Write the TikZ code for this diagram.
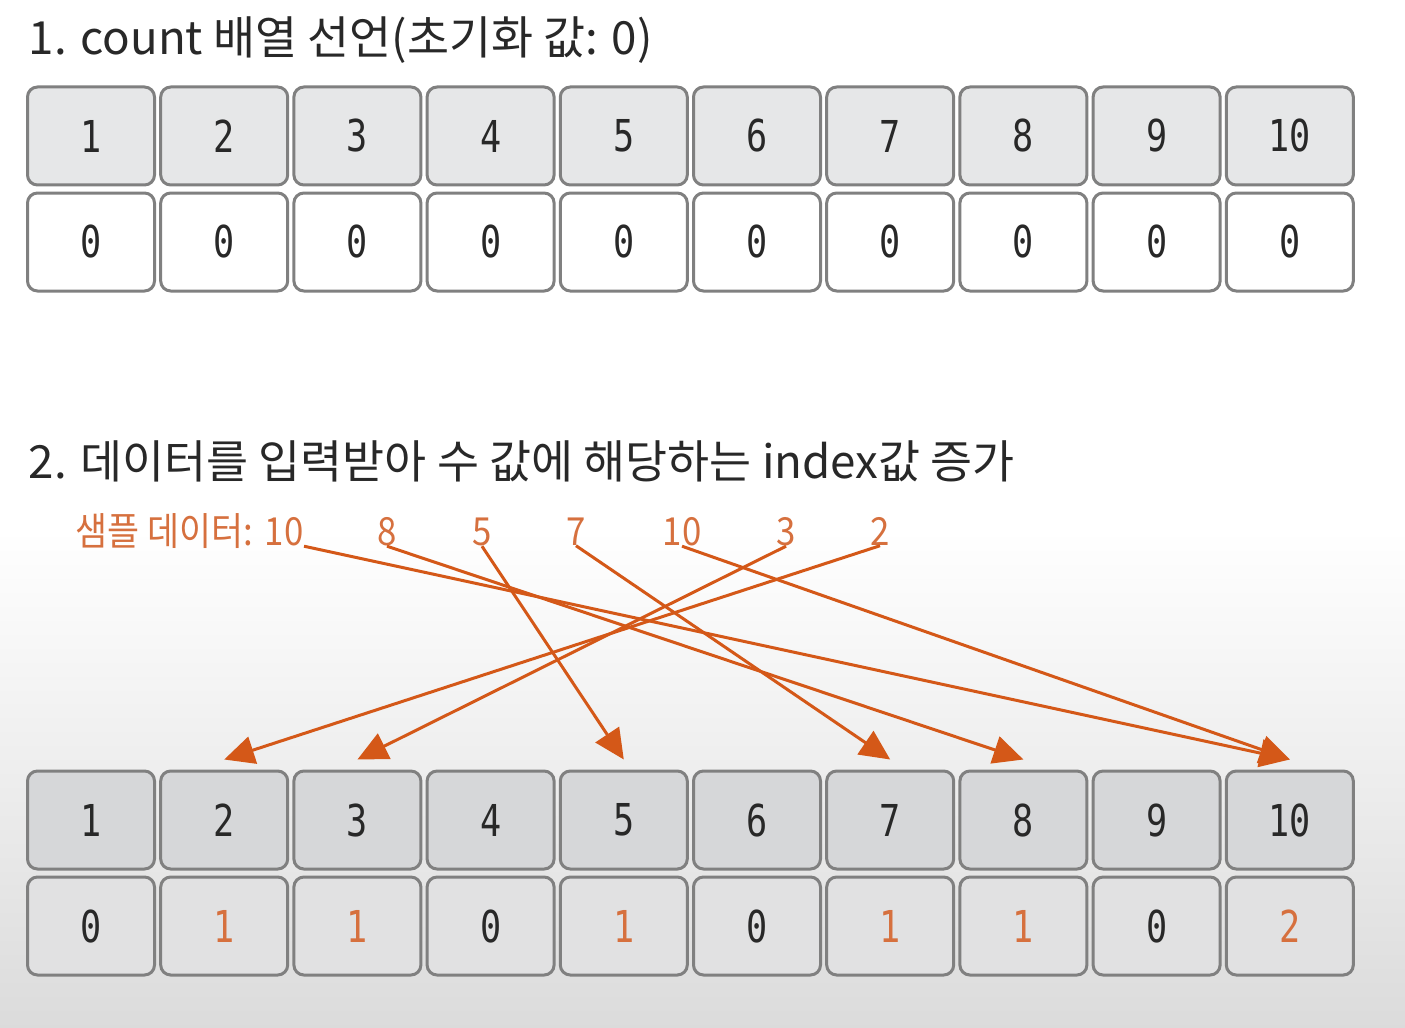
\documentclass[tikz,border=0pt]{standalone}
\usepackage{fontspec}
\setmainfont{Noto Sans CJK KR}
\newfontfamily\monofont[FakeStretch=0.8]{DejaVu Sans Mono}
\newfontfamily\samplefont[FakeStretch=0.9]{Noto Sans CJK KR}
\usetikzlibrary{arrows.meta}
\definecolor{boxline}{RGB}{128,128,128}
\definecolor{headfill}{RGB}{230,231,232}
\definecolor{headdark}{RGB}{214,215,217}
\definecolor{valdark}{RGB}{225,225,226}
\definecolor{arrowor}{RGB}{212,88,24}
\definecolor{textor}{RGB}{214,112,62}
\definecolor{ink}{RGB}{40,40,40}
\tikzset{
  cell/.style={draw=boxline, line width=0.3mm, rounded corners=1mm,
    minimum width=12.7mm, minimum height=9.8mm, inner sep=0pt, text=ink,
    font=\monofont\fontsize{12.5}{14}\selectfont},
  sample/.style={text=textor, inner sep=0pt, anchor=base,
    font=\samplefont\fontsize{11}{12}\selectfont},
  inc/.style={draw=arrowor, line width=0.3mm,
    -{Triangle[length=3mm,width=2.8mm]}},
}
\begin{document}
\begin{tikzpicture}[x=0.1mm,y=-0.1mm]
  \useasboundingbox (0,0) rectangle (1405,1027);
  \fill[white] (0,0) rectangle (1405,1027);
  \shade[top color=white, bottom color=black!14] (0,530) rectangle (1405,1027);
  % titles
  \node[anchor=base west, inner sep=0pt, text=ink, font=\fontsize{13}{15}\selectfont] (t1) at (28,55)
    {1. count 배열 선언(초기화 값: 0)};
  \node[anchor=base west, inner sep=0pt, text=ink, font=\fontsize{13}{15}\selectfont] (t2) at (28,478)
    {2. 데이터를 입력받아 수 값에 해당하는 index값 증가};
  % count array, initial
  \foreach \i in {1,...,10} {
    \node[cell, fill=headfill] (h\i) at ({91+133.2*(\i-1)},136) {\i};
    \node[cell, fill=white] (v\i) at ({91+133.2*(\i-1)},242) {0};
  }
  % count array, after input
  \foreach \i/\c/\col in {1/0/ink,2/1/textor,3/1/textor,4/0/ink,5/1/textor,
      6/0/ink,7/1/textor,8/1/textor,9/0/ink,10/2/textor} {
    \node[cell, fill=headdark] (H\i) at ({91+133.2*(\i-1)},820) {\i};
    \node[cell, fill=valdark, text=\col] (V\i) at ({91+133.2*(\i-1)},926) {\c};
  }
  % sample data
  \node[sample, anchor=base west] (lab) at (75,545) {샘플 데이터:};
  \node[sample] (d1) at (284,545) {10};
  \node[sample] (d2) at (387,545) {8};
  \node[sample] (d3) at (482,545) {5};
  \node[sample] (d4) at (576,545) {7};
  \node[sample] (d5) at (682,545) {10};
  \node[sample] (d6) at (786,545) {3};
  \node[sample] (d7) at (880,545) {2};
  \draw[inc] (d1.south east) -- ([yshift=1mm]H10.north);
  \draw[inc] (d2.south) -- ([yshift=1mm]H8.north);
  \draw[inc] (d3.south) -- ([yshift=1mm]H5.north);
  \draw[inc] (d4.south) -- ([yshift=1mm]H7.north);
  \draw[inc] (d5.south) -- ([yshift=1mm]H10.north);
  \draw[inc] (d6.south) -- ([yshift=1mm]H3.north);
  \draw[inc] (d7.south) -- ([yshift=1mm]H2.north);
\end{tikzpicture}
\end{document}
